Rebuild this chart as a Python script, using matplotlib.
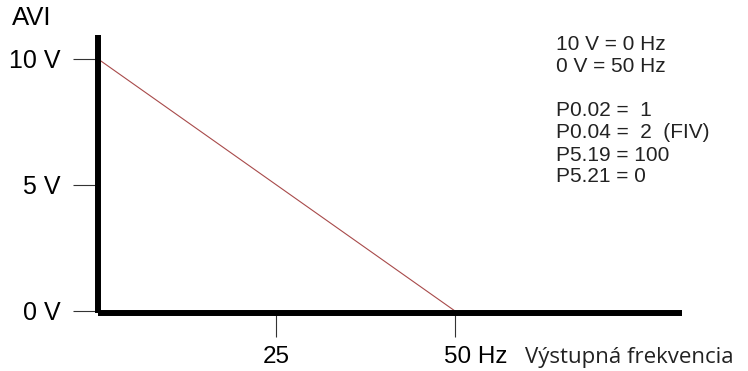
import matplotlib
matplotlib.use("Agg")
import matplotlib.pyplot as plt
import matplotlib.transforms as mtransforms

plt.rcParams['font.family'] = ['Liberation Sans', 'DejaVu Sans']

# Data: analog input voltage vs output frequency
freq_hz = [0, 50]
avi_volts = [10, 0]

x_ticks = [25, 50]
x_tick_labels = ['25', '50 Hz']
y_ticks = [0, 5, 10]
y_tick_labels = ['0 V', '5 V', '10 V']

notes = [
    '10 V = 0 Hz',
    '0 V = 50 Hz',
    '',
    'P0.02 =  1',
    'P0.04 =  2  (FIV)',
    'P5.19 = 100',
    'P5.21 = 0',
]

fig = plt.figure(figsize=(7.48, 3.71), dpi=100)
ax = fig.add_axes([98 / 748, 1 - 313 / 371, (682 - 98) / 748, (313 - 35) / 371])

ax.plot(freq_hz, avi_volts, color='#a84a4a', linewidth=0.8)

ax.set_xlim(0, 81.8)
ax.set_ylim(-0.08, 10.95)

for side in ['top', 'right']:
    ax.spines[side].set_visible(False)
for side in ['left', 'bottom']:
    ax.spines[side].set_linewidth(4.3)
    ax.spines[side].set_color('black')
    ax.spines[side].set_capstyle('butt')

ax.set_xticks(x_ticks)
ax.set_xticklabels(x_tick_labels)
ax.set_yticks(y_ticks)
ax.set_yticklabels(y_tick_labels)

ax.tick_params(axis='y', direction='out', length=18, width=0.8, color='#333333',
               pad=9, labelsize=18)
ax.tick_params(axis='x', direction='out', length=17, width=0.8, color='#333333',
               pad=7, labelsize=17.5)

# "50 Hz" sits a little to the right of its tick
shift = mtransforms.ScaledTranslation(0.21, 0, fig.dpi_scale_trans)
lbl = ax.get_xticklabels()[1]
lbl.set_transform(lbl.get_transform() + shift)

fig.text(12 / 748, 1 - 18 / 371, 'AVI', fontsize=18.5, va='center', ha='left')

y0 = 45
for i, line in enumerate(notes):
    fig.text(556 / 748, 1 - (y0 + 22 * i) / 371, line, fontsize=15,
             va='center', ha='left', color='#222222')

fig.text(525 / 748, 1 - 358 / 371, 'Výstupná frekvencia', fontsize=16,
         family=['Open Sans', 'DejaVu Sans'], va='center', ha='left', color='#222222')

fig.savefig('out.png', dpi=100)
